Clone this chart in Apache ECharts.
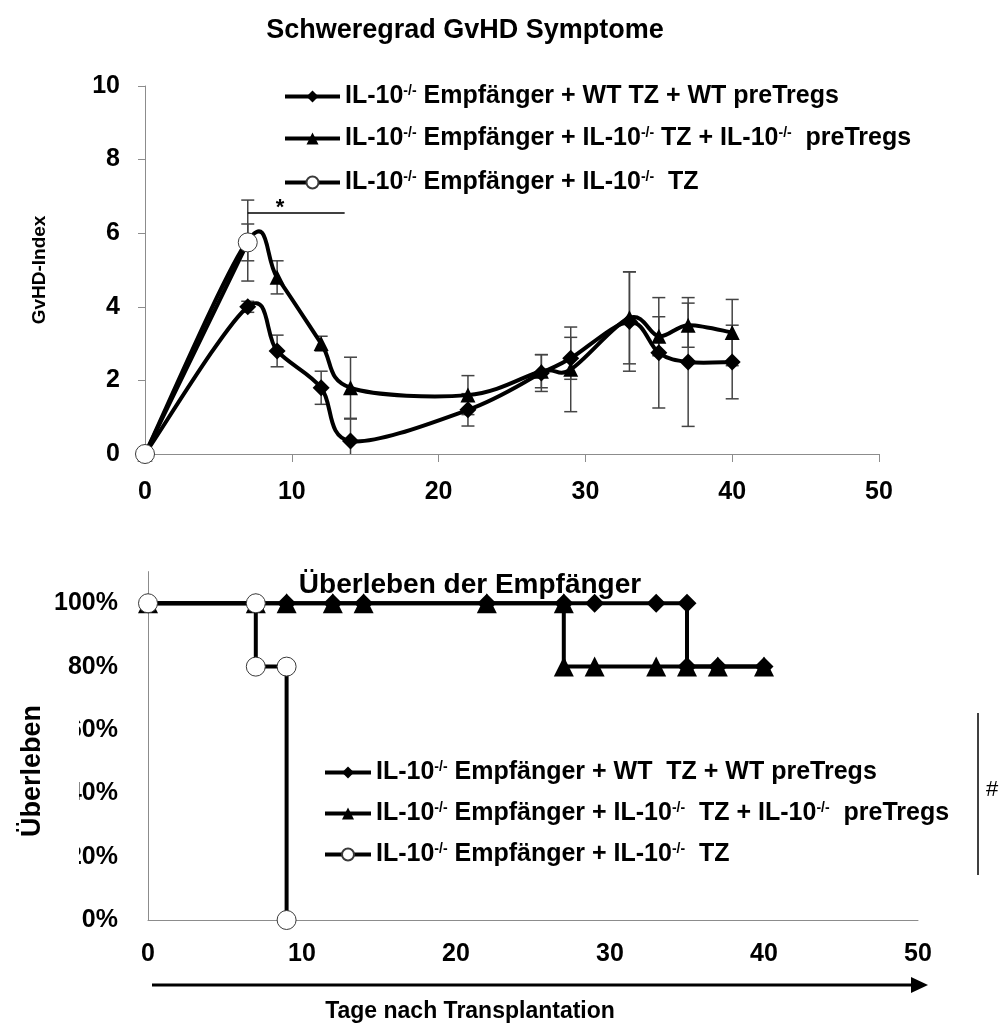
<!DOCTYPE html>
<html>
<head>
<meta charset="utf-8">
<script src="https://cdn.jsdelivr.net/npm/echarts/dist/echarts.min.js"></script>
<style>
  html, body { margin: 0; padding: 0; background: #fff; }
  #chart { width: 1006px; height: 1027px; }
</style>
</head>
<body>
<div id="chart"></div>
<script>
const FONT = '"Liberation Sans", Arial, Helvetica, sans-serif';

// ---- GvHD index (mean ± SD) per day after transplantation ----
const gvhdDays     = [0, 7, 9, 12, 14, 22, 27, 29, 33, 35, 37, 40];
const gvhdWT       = [0, 4.0, 2.8, 1.8, 0.35, 1.2, 2.2, 2.6, 3.6, 2.75, 2.5, 2.5];
const gvhdWTsd     = [0, 0.15, 0.43, 0.45, 0.6, 0.44, 0.5, 0.57, 1.35, 1.5, 1.75, 1.0];
const gvhdKO       = [0, 5.8, 4.8, 3.0, 1.8, 1.6, 2.25, 2.3, 3.7, 3.2, 3.5, 3.3];
const gvhdKOsd     = [0, 1.1, 0.45, 0.2, 0.83, 0.53, 0.45, 1.15, 1.25, 0.53, 0.6, 0.9];
const gvhdCtrlDays = [0, 7];
const gvhdCtrl     = [0, 5.75];
const gvhdCtrlSd   = [0, 0.5];

// significance bar between day 7 and day 14 (y = 6.55)
const sigBarX = [7, 13.6];
const sigBarY = 6.55;

// ---- survival (fraction alive) ----
const survWTDays   = [0, 7, 9, 12, 14, 22, 27, 29, 33, 35, 35, 37, 40];
const survWT       = [1, 1, 1, 1, 1, 1, 1, 1, 1, 1, 0.8, 0.8, 0.8];
const survKODays   = [0, 7, 9, 12, 14, 22, 27, 27, 29, 33, 35, 37, 40];
const survKO       = [1, 1, 1, 1, 1, 1, 1, 0.8, 0.8, 0.8, 0.8, 0.8, 0.8];
const survCtrlDays = [0, 7, 7, 9, 9];
const survCtrl     = [1, 1, 0.8, 0.8, 0];

// ---- axis ticks ----
const dayTicks   = [0, 50, 10];     // min, max, step
const gvhdTicks  = [0, 10, 2];
const survTicks  = [0, 1.1, 0.2];

// ---- group names ----
const namesTop = [
  'IL-10-/- Empfänger + WT TZ + WT preTregs',
  'IL-10-/- Empfänger + IL-10-/- TZ + IL-10-/-  preTregs',
  'IL-10-/- Empfänger + IL-10-/-  TZ'
];
const namesBottom = [
  'IL-10-/- Empfänger + WT  TZ + WT preTregs',
  'IL-10-/- Empfänger + IL-10-/-  TZ + IL-10-/-  preTregs',
  'IL-10-/- Empfänger + IL-10-/-  TZ'
];

const zip = (xs, ys) => xs.map((x, i) => [x, ys[i]]);
const supFmt = name => name.replace(/-\/-/g, '{s|-/-}');

const AXIS_GREY = '#8c8c8c';
const boldText = (size) => ({ fontFamily: FONT, fontWeight: 'bold', fontSize: size, color: '#000' });

// vertical SD bars with caps
function errorBars(xs, ys, sds) {
  const data = [];
  xs.forEach((x, i) => { if (sds[i] > 0) data.push([x, ys[i] - sds[i], ys[i] + sds[i]]); });
  return {
    type: 'custom',
    xAxisIndex: 0, yAxisIndex: 0,
    z: 1, silent: true,
    encode: { x: 0, y: [1, 2] },
    data,
    renderItem(params, api) {
      const x = api.value(0);
      const lowV = Math.max(api.value(1), 0);
      const lo = api.coord([x, lowV]);
      const hi = api.coord([x, api.value(2)]);
      const w = 6.5;
      const style = { stroke: '#444', lineWidth: 1.5 };
      const children = [
        { type: 'line', shape: { x1: lo[0], y1: lo[1], x2: hi[0], y2: hi[1] }, style },
        { type: 'line', shape: { x1: hi[0] - w, y1: hi[1], x2: hi[0] + w, y2: hi[1] }, style }
      ];
      if (api.value(1) > 0) {
        children.push({ type: 'line', shape: { x1: lo[0] - w, y1: lo[1], x2: lo[0] + w, y2: lo[1] }, style });
      }
      return { type: 'group', children };
    }
  };
}

// smoothed connecting curve (Catmull-Rom segments, 1/6 tangent) in screen space
function smoothCurve(xs, ys, z) {
  const n = xs.length;
  return {
    type: 'custom',
    xAxisIndex: 0, yAxisIndex: 0,
    z, silent: true,
    encode: { x: 0, y: 1 },
    data: zip(xs, ys),
    renderItem(params, api) {
      const i = params.dataIndex;
      if (i >= n - 1) return { type: 'group', children: [] };
      const P = k => { const j = Math.max(0, Math.min(n - 1, k)); return api.coord([xs[j], ys[j]]); };
      const p0 = P(i - 1), p1 = P(i), p2 = P(i + 1), p3 = P(i + 2);
      return {
        type: 'bezierCurve',
        shape: {
          x1: p1[0], y1: p1[1], x2: p2[0], y2: p2[1],
          cpx1: p1[0] + (p2[0] - p0[0]) / 6, cpy1: p1[1] + (p2[1] - p0[1]) / 6,
          cpx2: p2[0] - (p3[0] - p1[0]) / 6, cpy2: p2[1] - (p3[1] - p1[1]) / 6
        },
        style: { stroke: '#000', lineWidth: 4, fill: null, lineCap: 'round' }
      };
    }
  };
}

function lineSeries(name, data, symbol, size, axis, extra, hideLine) {
  const isCircle = symbol === 'circle';
  return Object.assign({
    type: 'line',
    name,
    xAxisIndex: axis, yAxisIndex: axis,
    data,
    symbol,
    symbolSize: size,
    showAllSymbol: true,
    lineStyle: { color: '#000', width: 4, opacity: hideLine ? 0 : 1 },
    itemStyle: isCircle
      ? { color: '#fff', borderColor: '#3a3a3a', borderWidth: 1 }
      : { color: '#000', borderWidth: 0 },
    emphasis: { disabled: true },
    z: isCircle ? 5 : 3
  }, extra || {});
}

function legendRow(name, left, top, itemWidth, fontSize) {
  return {
    data: [name],
    left, top,
    padding: 0,
    orient: 'horizontal',
    itemWidth,
    itemHeight: 15,
    itemGap: 0,
    selectedMode: false,
    formatter: supFmt,
    lineStyle: { width: 4, color: '#000', opacity: 1 },
    textStyle: Object.assign(boldText(fontSize), {
      rich: { s: { fontFamily: FONT, fontWeight: 'bold', fontSize: Math.round(fontSize * 0.55), color: '#000', verticalAlign: 'top' } }
    })
  };
}

const chart = echarts.init(document.getElementById('chart'), null, { renderer: 'canvas' });

const option = {
  animation: false,
  backgroundColor: '#fff',
  grid: [
    { left: 145, top: 86, width: 734, height: 368 },
    { left: 148, top: 571.6, width: 770, height: 348.4 }
  ],
  xAxis: [
    {
      type: 'value', gridIndex: 0,
      min: dayTicks[0], max: dayTicks[1], interval: dayTicks[2],
      axisLine: { lineStyle: { color: AXIS_GREY, width: 1 } },
      axisTick: { show: true, length: 8, lineStyle: { color: AXIS_GREY } },
      axisLabel: Object.assign(boldText(25), { margin: 26 }),
      splitLine: { show: false }
    },
    {
      type: 'value', gridIndex: 1,
      min: dayTicks[0], max: dayTicks[1], interval: dayTicks[2],
      axisLine: { lineStyle: { color: AXIS_GREY, width: 1 } },
      axisTick: { show: false },
      axisLabel: Object.assign(boldText(25), { margin: 22 }),
      splitLine: { show: false }
    }
  ],
  yAxis: [
    {
      type: 'value', gridIndex: 0,
      min: gvhdTicks[0], max: gvhdTicks[1], interval: gvhdTicks[2],
      axisLine: { show: true, lineStyle: { color: AXIS_GREY, width: 1 } },
      axisTick: { show: true, length: 7, lineStyle: { color: AXIS_GREY } },
      axisLabel: Object.assign(boldText(25), { margin: 25 }),
      splitLine: { show: false },
      name: 'GvHD-Index',
      nameLocation: 'middle',
      nameRotate: 90,
      nameGap: 96,
      nameTextStyle: boldText(19)
    },
    {
      type: 'value', gridIndex: 1,
      min: survTicks[0], max: survTicks[1], interval: survTicks[2],
      axisLine: { show: true, lineStyle: { color: AXIS_GREY, width: 1 } },
      axisTick: { show: false },
      axisLabel: Object.assign(boldText(25), {
        margin: 30,
        formatter: v => (v > 1.0001 ? '' : Math.round(v * 100) + '%')
      }),
      splitLine: { show: false }
    }
  ],
  legend: [
    legendRow(namesTop[0], 283, 84, 55, 25),
    legendRow(namesTop[1], 283, 126, 55, 25),
    legendRow(namesTop[2], 283, 170, 55, 25),
    legendRow(namesBottom[0], 323, 760, 46, 25),
    legendRow(namesBottom[1], 323, 801, 46, 25),
    legendRow(namesBottom[2], 323, 842, 46, 25)
  ],
  series: [
    // GvHD index: SD bars, smoothed curves, then markers
    errorBars(gvhdDays, gvhdWT, gvhdWTsd),
    errorBars(gvhdDays, gvhdKO, gvhdKOsd),
    errorBars(gvhdCtrlDays, gvhdCtrl, gvhdCtrlSd),
    smoothCurve(gvhdDays, gvhdWT, 2),
    smoothCurve(gvhdDays, gvhdKO, 2),
    smoothCurve(gvhdCtrlDays, gvhdCtrl, 2),
    lineSeries(namesTop[0], zip(gvhdDays, gvhdWT), 'diamond', 17, 0, {
      markLine: {
        silent: true, symbol: 'none', animation: false,
        lineStyle: { color: '#000', width: 1.5, type: 'solid', opacity: 1 },
        label: { show: true, position: 'insideStartTop', formatter: '*', fontFamily: FONT, fontWeight: 'bold', fontSize: 22, color: '#000', distance: [28, -6] },
        emphasis: { disabled: true },
        data: [[{ coord: [sigBarX[0], sigBarY] }, { coord: [sigBarX[1], sigBarY] }]]
      }
    }, true),
    lineSeries(namesTop[1], zip(gvhdDays, gvhdKO), 'triangle', 15, 0, null, true),
    lineSeries(namesTop[2], zip(gvhdCtrlDays, gvhdCtrl), 'circle', 19, 0, null, true),
    // survival step curves
    lineSeries(namesBottom[0], zip(survWTDays, survWT), 'diamond', 19, 1),
    lineSeries(namesBottom[1], zip(survKODays, survKO), 'triangle', 20, 1),
    lineSeries(namesBottom[2], zip(survCtrlDays, survCtrl), 'circle', 19, 1)
  ],
  graphic: [
    { type: 'text', x: 465, y: 31, style: { text: 'Schweregrad GvHD Symptome', font: 'bold 27px ' + FONT, fill: '#000', align: 'center', verticalAlign: 'middle' } },
    { type: 'text', x: 470, y: 585, style: { text: 'Überleben der Empfänger', font: 'bold 28px ' + FONT, fill: '#000', align: 'center', verticalAlign: 'middle' } },
    { type: 'text', x: 33, y: 771, rotation: Math.PI / 2, style: { text: 'Überleben', font: 'bold 27px ' + FONT, fill: '#000', align: 'center', verticalAlign: 'middle' } },
    { type: 'text', x: 470, y: 1012, style: { text: 'Tage nach Transplantation', font: 'bold 23px ' + FONT, fill: '#000', align: 'center', verticalAlign: 'middle' } },
    // time arrow under the survival axis
    { type: 'line', shape: { x1: 152, y1: 985, x2: 914, y2: 985 }, style: { stroke: '#000', lineWidth: 3 } },
    { type: 'polygon', shape: { points: [[911, 977], [928, 985], [911, 993]] }, style: { fill: '#000' } },
    // significance bracket for survival
    { type: 'line', shape: { x1: 978, y1: 713, x2: 978, y2: 875 }, style: { stroke: '#000', lineWidth: 1.5 } },
    { type: 'text', x: 986, y: 790, style: { text: '#', font: '22px ' + FONT, fill: '#000', align: 'left', verticalAlign: 'middle' } },
    // white band trimming the left side of the middle percentage labels
    { type: 'rect', z: 100, shape: { x: 47, y: 690, width: 32, height: 176 }, style: { fill: '#fff' } }
  ]
};

chart.setOption(option);
</script>
</body>
</html>
